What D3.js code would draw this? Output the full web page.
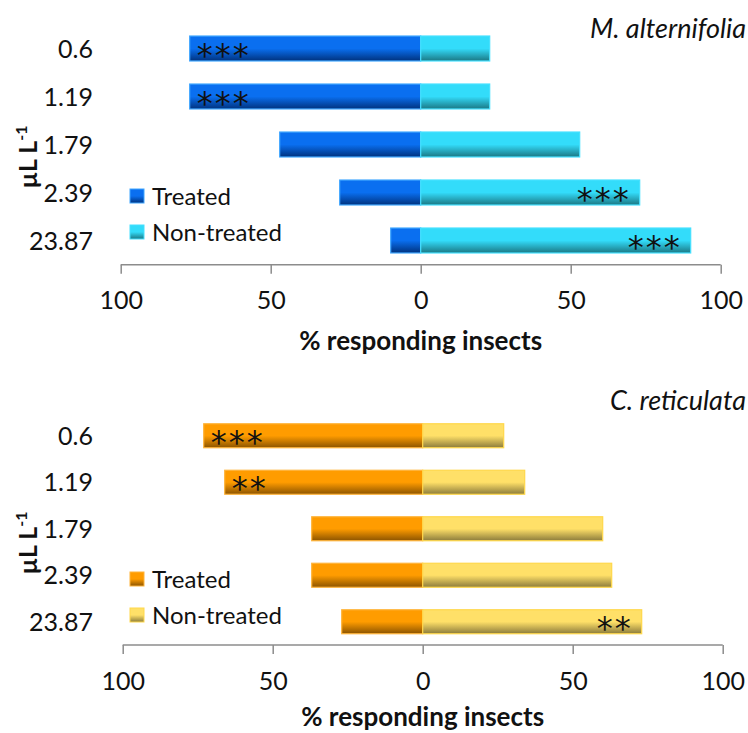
<!DOCTYPE html>
<html>
<head>
<meta charset="utf-8">
<script src="https://cdn.jsdelivr.net/npm/d3@7"></script>
<style>
  body { margin: 0; background: #fff; }
  svg { display: block; }
  text { font-family: Lato, "Open Sans", sans-serif; fill: #111; }
</style>
</head>
<body>
<svg id="chart" width="748" height="733"></svg>
<script>
// doses (µL/L) and % responding insects
const doses = ["0.6", "1.19", "1.79", "2.39", "23.87"];

const maTreated = [77, 77, 47, 27, 10];
const maNonTreated = [23, 23, 53, 73, 90];
const maTreatedSig = ["***", "***", "", "", ""];
const maNonTreatedSig = ["", "", "", "***", "***"];

const crTreated = [73, 66, 37, 37, 27];
const crNonTreated = [27, 34, 60, 63, 73];
const crTreatedSig = ["***", "**", "", "", ""];
const crNonTreatedSig = ["", "", "", "", "**"];

const xTicks = [-100, -50, 0, 50, 100];
const seriesNames = ["Treated", "Non-treated"];

const svg = d3.select("#chart");
const defs = svg.append("defs");

// vertical gradient: flat colour on top, darker towards the bottom edge
function addGradient(id, top, bottom) {
    const g = defs.append("linearGradient")
        .attr("id", id)
        .attr("x1", 0).attr("y1", 0)
        .attr("x2", 0).attr("y2", 1);
    g.append("stop").attr("offset", "0%").attr("stop-color", top);
    g.append("stop").attr("offset", "50%").attr("stop-color", top);
    g.append("stop").attr("offset", "100%").attr("stop-color", bottom);
}
addGradient("gBlue", "#0a6ff0", "#00327e");
addGradient("gCyan", "#33dcfa", "#1b7884");
addGradient("gOrange", "#ff9c00", "#8c5400");
addGradient("gYellow", "#ffe068", "#8c7c3c");

function drawPanel(cfg) {
    const g = svg.append("g");

    const x = d3.scaleLinear().domain([-100, 100]).range(cfg.xRange);
    const y = d3.scaleBand()
        .domain(doses)
        .range(cfg.yRange)
        .paddingInner(cfg.pad)
        .paddingOuter(cfg.pad / 2);

    // x axis (labels shown as absolute values)
    const axis = d3.axisBottom(x)
        .tickValues(xTicks)
        .tickFormat(d => Math.abs(d))
        .tickSize(9)
        .tickPadding(18);
    const ax = g.append("g")
        .attr("transform", `translate(0,${cfg.axisY})`)
        .call(axis);
    ax.select(".domain").attr("stroke", "#8c8c8c").attr("stroke-width", 1.5)
        .attr("d", `M${cfg.xRange[0]},0H${cfg.xRange[1]}`);
    ax.selectAll(".tick line").attr("stroke", "#8c8c8c").attr("stroke-width", 1.5);
    ax.selectAll(".tick text")
        .attr("fill", "#111")
        .style("font-family", "Lato, sans-serif")
        .style("font-size", "25px");

    g.append("text")
        .attr("x", x(0))
        .attr("y", cfg.xTitleY)
        .attr("text-anchor", "middle")
        .style("font-size", "26px")
        .style("font-weight", "bold")
        .text("% responding insects");

    // category labels
    g.selectAll(".dose")
        .data(doses)
        .join("text")
        .attr("class", "dose")
        .attr("x", 93)
        .attr("y", d => y(d) + y.bandwidth() / 2)
        .attr("dy", "0.36em")
        .attr("text-anchor", "end")
        .style("font-size", "25px")
        .text(d => d);

    // y title
    const yt = g.append("text")
        .attr("transform", `translate(37,${cfg.yTitleY}) rotate(-90)`)
        .attr("text-anchor", "middle")
        .style("font-size", "25px")
        .style("font-weight", "bold");
    yt.append("tspan").text("µL L");
    yt.append("tspan").attr("dy", -10).style("font-size", "16px").text("-1");

    // species title
    g.append("text")
        .attr("x", 746)
        .attr("y", cfg.titleY)
        .attr("text-anchor", "end")
        .style("font-size", "27px")
        .style("font-style", "italic")
        .text(cfg.title);

    // treated bars go left, non-treated go right
    g.selectAll(".treated")
        .data(cfg.treated)
        .join("rect")
        .attr("x", d => x(-d))
        .attr("y", (d, i) => y(doses[i]))
        .attr("width", d => x(0) - x(-d))
        .attr("height", y.bandwidth())
        .attr("fill", `url(#${cfg.fill[0]})`)
        .attr("stroke", cfg.stroke[0])
        .attr("stroke-width", 1.2);

    g.selectAll(".nontreated")
        .data(cfg.nonTreated)
        .join("rect")
        .attr("x", x(0))
        .attr("y", (d, i) => y(doses[i]))
        .attr("width", d => x(d) - x(0))
        .attr("height", y.bandwidth())
        .attr("fill", `url(#${cfg.fill[1]})`)
        .attr("stroke", cfg.stroke[1])
        .attr("stroke-width", 1.2);

    // significance stars
    g.selectAll(".sigT")
        .data(cfg.treatedSig)
        .join("text")
        .attr("x", (d, i) => x(-cfg.treated[i]) + 7)
        .attr("y", (d, i) => y(doses[i]) + y.bandwidth() / 2 + 17)
        .style("font-family", "'DejaVu Sans', sans-serif")
        .style("font-size", "32px")
        .style("letter-spacing", "2px")
        .text(d => d);

    g.selectAll(".sigN")
        .data(cfg.nonTreatedSig)
        .join("text")
        .attr("x", (d, i) => x(cfg.nonTreated[i]) - 9)
        .attr("y", (d, i) => y(doses[i]) + y.bandwidth() / 2 + 17)
        .attr("text-anchor", "end")
        .style("font-family", "'DejaVu Sans', sans-serif")
        .style("font-size", "32px")
        .style("letter-spacing", "2px")
        .text(d => d);

    // legend
    const lg = g.selectAll(".legend")
        .data(seriesNames)
        .join("g")
        .attr("transform", (d, i) => `translate(130,${cfg.legendY + i * cfg.legendStep})`);
    lg.append("rect")
        .attr("width", 14).attr("height", 14)
        .attr("fill", (d, i) => `url(#${cfg.fill[i]})`)
        .attr("stroke", (d, i) => cfg.stroke[i])
        .attr("stroke-width", 1);
    lg.append("text")
        .attr("x", 22)
        .attr("y", 7)
        .attr("dy", "0.36em")
        .style("font-size", "24px")
        .text(d => d);
}

drawPanel({
    title: "M. alternifolia",
    titleY: 38,
    treated: maTreated,
    nonTreated: maNonTreated,
    treatedSig: maTreatedSig,
    nonTreatedSig: maNonTreatedSig,
    xRange: [120.7, 720.7],
    yRange: [24.5, 264.5],
    pad: 0.48,
    axisY: 264.7,
    xTitleY: 350,
    yTitleY: 157,
    legendY: 189,
    legendStep: 36,
    fill: ["gBlue", "gCyan"],
    stroke: ["#3fa6ff", "#44e0ff"]
});

drawPanel({
    title: "C. reticulata",
    titleY: 410,
    treated: crTreated,
    nonTreated: crNonTreated,
    treatedSig: crTreatedSig,
    nonTreatedSig: crNonTreatedSig,
    xRange: [122.7, 722.7],
    yRange: [412.5, 645],
    pad: 0.484,
    axisY: 645,
    xTitleY: 726,
    yTitleY: 543,
    legendY: 572,
    legendStep: 36,
    fill: ["gOrange", "gYellow"],
    stroke: ["#ffb43a", "#ffd84a"]
});
</script>
</body>
</html>
